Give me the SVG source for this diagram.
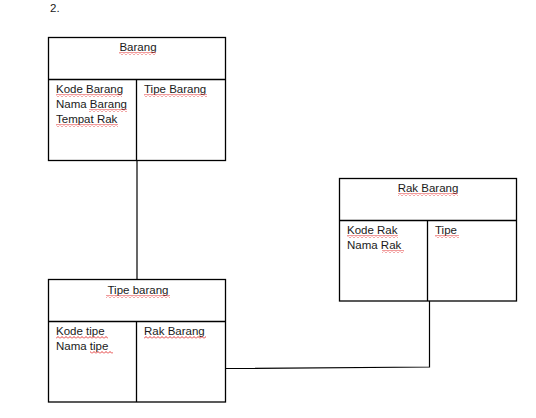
<svg xmlns="http://www.w3.org/2000/svg" width="536" height="418" viewBox="0 0 536 418">
  <defs>
    <pattern id="squiggle" x="0" y="0" width="4" height="3" patternUnits="userSpaceOnUse">
      <polyline points="0,2.5 2,0.5 4,2.5" fill="none" stroke="#e02020" stroke-width="0.9"/>
    </pattern>
    <style>
      .box { fill: #ffffff; stroke: #000000; stroke-width: 1.3; }
      .div { stroke: #000000; stroke-width: 1.3; fill: none; }
      .conn { stroke: #000000; stroke-width: 1.2; fill: none; }
      text { font-family: "Liberation Sans", Arial, sans-serif; font-size: 11.5px; fill: #1a1a1a; }
      .mid { text-anchor: middle; }
      .sq { fill: url(#squiggle); }
    </style>
  </defs>
  <rect width="536" height="418" fill="#ffffff"/>

  <text x="50" y="12">2.</text>

  <g id="connectors">
    <line class="conn" x1="137" y1="160" x2="137" y2="279"/>
    <polyline class="conn" points="226,368.5 429.5,367 429.5,301"/>
  </g>

  <g id="barang">
    <rect class="box" x="48.5" y="37.5" width="177" height="123"/>
    <line class="div" x1="48.5" y1="79.5" x2="225.5" y2="79.5"/>
    <line class="div" x1="136.5" y1="79.5" x2="136.5" y2="160.5"/>
    <text class="mid" x="138" y="51">Barang</text>
    <text x="56" y="93">Kode Barang</text>
    <text x="56" y="108">Nama Barang</text>
    <text x="56" y="123">Tempat Rak</text>
    <text x="144" y="93">Tipe Barang</text>
    <rect class="sq" x="119" y="52" width="37" height="3"/>
    <rect class="sq" x="56" y="94" width="66" height="3"/>
    <rect class="sq" x="89" y="109" width="38" height="3"/>
    <rect class="sq" x="56" y="124" width="62" height="3"/>
    <rect class="sq" x="144" y="94" width="63" height="3"/>
  </g>

  <g id="rak-barang">
    <rect class="box" x="339.5" y="178.5" width="177" height="122.5"/>
    <line class="div" x1="339.5" y1="220.5" x2="516.5" y2="220.5"/>
    <line class="div" x1="427.5" y1="220.5" x2="427.5" y2="301"/>
    <text class="mid" x="428" y="192">Rak Barang</text>
    <text x="347" y="234">Kode Rak</text>
    <text x="347" y="249">Nama Rak</text>
    <text x="435" y="234">Tipe</text>
    <rect class="sq" x="398" y="193" width="60" height="3"/>
    <rect class="sq" x="347" y="235" width="51" height="3"/>
    <rect class="sq" x="382" y="250" width="22" height="3"/>
    <rect class="sq" x="435" y="235" width="24" height="3"/>
  </g>

  <g id="tipe-barang">
    <rect class="box" x="48.5" y="279.5" width="177" height="122.5"/>
    <line class="div" x1="48.5" y1="321.5" x2="225.5" y2="321.5"/>
    <line class="div" x1="136.5" y1="321.5" x2="136.5" y2="402"/>
    <text class="mid" x="138" y="294">Tipe barang</text>
    <text x="56" y="335">Kode tipe</text>
    <text x="56" y="350">Nama tipe</text>
    <text x="144" y="335">Rak Barang</text>
    <rect class="sq" x="106" y="295" width="64" height="3"/>
    <rect class="sq" x="56" y="336" width="52" height="3"/>
    <rect class="sq" x="90" y="351" width="23" height="3"/>
    <rect class="sq" x="144" y="336" width="62" height="3"/>
  </g>
</svg>
